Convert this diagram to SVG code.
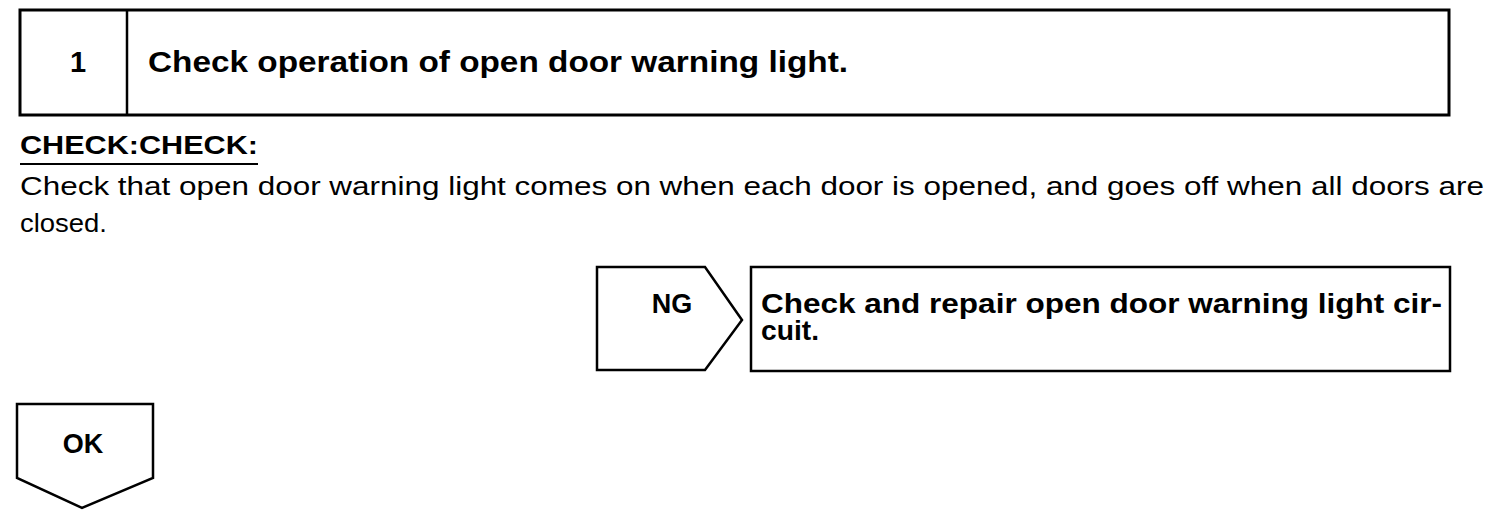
<svg xmlns="http://www.w3.org/2000/svg" width="1504" height="522" viewBox="0 0 1504 522">
<style>
.box{fill:#fff;stroke:#000;stroke-width:3}
.shape{fill:#fff;stroke:#000;stroke-width:2.5;stroke-linejoin:miter}
.b{font-family:"Liberation Sans",Arial,sans-serif;font-weight:bold;fill:#000}
.r{font-family:"Liberation Sans",Arial,sans-serif;fill:#000}
</style>
<rect width="1504" height="522" fill="#fff"/>
<g id="step1">
<rect class="box" x="20" y="10" width="1429" height="105"/>
<line x1="127" y1="10" x2="127" y2="115" stroke="#000" stroke-width="2.5"/>
<text class="b" x="78" y="72" font-size="29" text-anchor="middle">1</text>
<text class="b" x="148" y="72" font-size="29" textLength="700" lengthAdjust="spacingAndGlyphs">Check operation of open door warning light.</text>
</g>
<g id="check">
<text class="b" x="20" y="154" font-size="25" textLength="238" lengthAdjust="spacingAndGlyphs">CHECK:CHECK:</text>
<line x1="20" y1="164" x2="258" y2="164" stroke="#000" stroke-width="2"/>
<text class="r" x="20" y="195" font-size="26" textLength="1464" lengthAdjust="spacingAndGlyphs">Check that open door warning light comes on when each door is opened, and goes off when all doors are</text>
<text class="r" x="20" y="232" font-size="26" textLength="87" lengthAdjust="spacingAndGlyphs">closed.</text>
</g>
<g id="ng">
<polygon class="shape" points="597,267 705,267 742,320 705,370 597,370"/>
<text class="b" x="672" y="313" font-size="27" text-anchor="middle">NG</text>
</g>
<g id="repair">
<rect class="shape" x="751" y="267" width="699" height="104"/>
<text class="b" x="761" y="313" font-size="27" textLength="681" lengthAdjust="spacingAndGlyphs">Check and repair open door warning light cir-</text>
<text class="b" x="761" y="340" font-size="27" textLength="58" lengthAdjust="spacingAndGlyphs">cuit.</text>
</g>
<g id="ok">
<polygon class="shape" points="17,404 153,404 153,478 82,508 17,478"/>
<text class="b" x="83" y="453" font-size="27" text-anchor="middle">OK</text>
</g>
<g id="connectors"></g>
</svg>
